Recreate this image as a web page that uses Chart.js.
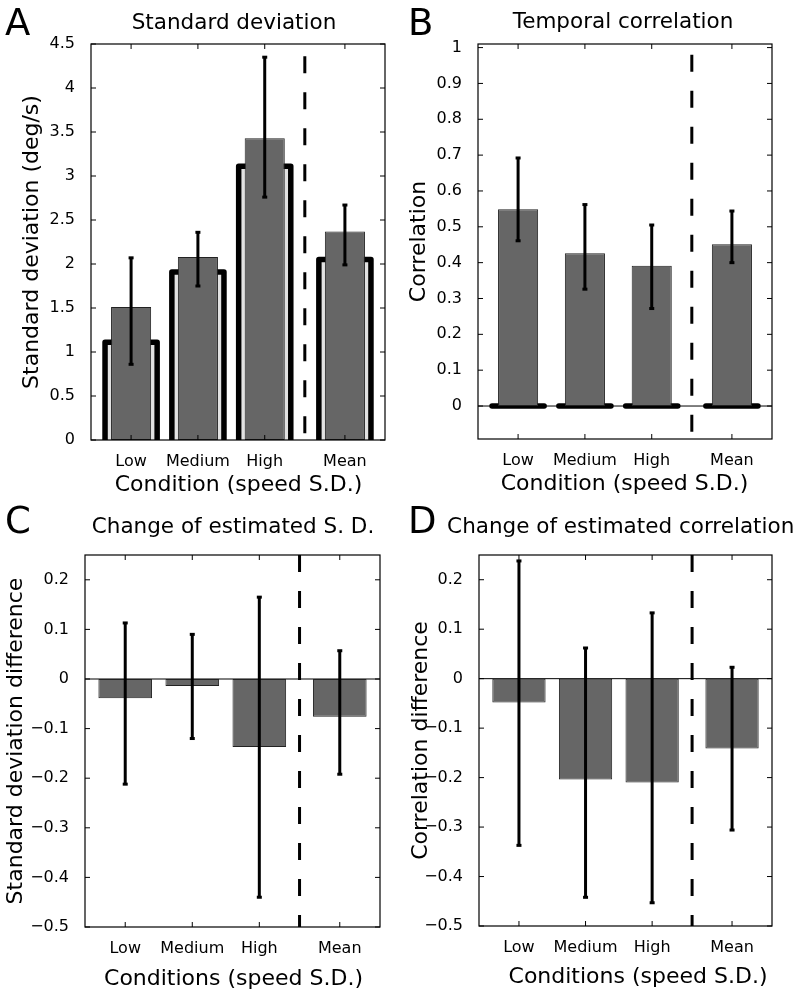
<!DOCTYPE html>
<html lang="en">
<head>
<meta charset="UTF-8" />
<title>Speed variability: S.D. and temporal correlation</title>
<script src="https://cdn.jsdelivr.net/npm/chart.js@4.4.1/dist/chart.umd.min.js"></script>
<style>
  body { margin: 0; background: #fff; }
  #wrap { position: relative; width: 796px; height: 991px; }
  canvas { position: absolute; }
</style>
</head>
<body>
<div id="wrap">
  <canvas id="chartA" width="398" height="495" style="left:0;top:0"></canvas>
  <canvas id="chartB" width="398" height="495" style="left:398px;top:0"></canvas>
  <canvas id="chartC" width="398" height="496" style="left:0;top:495px"></canvas>
  <canvas id="chartD" width="398" height="496" style="left:398px;top:495px"></canvas>
</div>
<script>
const conditions = ['Low', 'Medium', 'High', 'Mean'];
const conditionPos = [1, 2, 3, 4.2];
const dividerPos = 3.6;

// A - standard deviation (deg/s), observers vs model outline
const sdObserved = [1.51, 2.08, 3.43, 2.37];
const sdErrLow = [0.86, 1.75, 2.76, 1.99];
const sdErrHigh = [2.07, 2.36, 4.35, 2.67];
const sdModel = [1.11, 1.91, 3.11, 2.05];
const sdTicks = [0, 0.5, 1, 1.5, 2, 2.5, 3, 3.5, 4, 4.5];

// B - temporal correlation
const corrObserved = [0.549, 0.426, 0.391, 0.451];
const corrErrLow = [0.461, 0.326, 0.272, 0.400];
const corrErrHigh = [0.692, 0.562, 0.505, 0.544];
const corrModel = [0, 0, 0, 0];
const corrTicks = [0, 0.1, 0.2, 0.3, 0.4, 0.5, 0.6, 0.7, 0.8, 0.9, 1];

// C - change of estimated S.D.
const sdDiff = [-0.039, -0.014, -0.137, -0.076];
const sdDiffErrLow = [-0.212, -0.120, -0.440, -0.192];
const sdDiffErrHigh = [0.113, 0.090, 0.165, 0.057];

// D - change of estimated correlation
const corrDiff = [-0.048, -0.204, -0.210, -0.141];
const corrDiffErrLow = [-0.337, -0.442, -0.453, -0.306];
const corrDiffErrHigh = [0.238, 0.062, 0.133, 0.023];
const diffTicks = [-0.5, -0.4, -0.3, -0.2, -0.1, 0, 0.1, 0.2];

const FONT = '"DejaVu Sans", sans-serif';

function fmt(v) {
  const s = String(Math.round(v * 100) / 100);
  return s.replace('-', '\u2212');
}

function makeDecor(p) {
  return {
    id: 'decor',
    beforeDatasetsDraw(chart) {
      const { ctx, chartArea: a, scales: { x, y } } = chart;
      ctx.save();
      if (p.zeroLine) {
        ctx.strokeStyle = '#000';
        ctx.lineWidth = 1;
        ctx.beginPath();
        ctx.moveTo(a.left, y.getPixelForValue(0));
        ctx.lineTo(a.right, y.getPixelForValue(0));
        ctx.stroke();
      }
      if (p.model) {
        ctx.beginPath();
        ctx.rect(a.left, a.top, a.right - a.left, a.bottom - a.top);
        ctx.clip();
        ctx.lineWidth = 5.5;
        ctx.lineJoin = 'round';
        ctx.lineCap = 'round';
        ctx.strokeStyle = '#000';
        ctx.fillStyle = '#e2e2e2';
        p.model.forEach((v, i) => {
          const l = x.getPixelForValue(conditionPos[i] - 0.39);
          const r = x.getPixelForValue(conditionPos[i] + 0.39);
          const top = y.getPixelForValue(v);
          const base = y.getPixelForValue(0);
          ctx.beginPath();
          ctx.moveTo(l, base);
          ctx.lineTo(l, top);
          ctx.lineTo(r, top);
          ctx.lineTo(r, base);
          if (v !== 0) ctx.fill();
          ctx.stroke();
        });
      }
      ctx.restore();
    },
    afterDatasetsDraw(chart) {
      const { ctx, chartArea: a, scales: { x, y } } = chart;
      ctx.save();
      // error bars
      ctx.strokeStyle = '#000';
      ctx.fillStyle = '#000';
      ctx.lineWidth = 3;
      p.errLow.forEach((lo, i) => {
        const px = x.getPixelForValue(conditionPos[i]);
        const y0 = y.getPixelForValue(lo);
        const y1 = y.getPixelForValue(p.errHigh[i]);
        ctx.beginPath();
        ctx.moveTo(px, y0);
        ctx.lineTo(px, y1);
        ctx.stroke();
        ctx.fillRect(px - 2.5, y0 - 1.5, 5, 3);
        ctx.fillRect(px - 2.5, y1 - 1.5, 5, 3);
      });
      // dashed divider
      ctx.setLineDash([17, 19]);
      ctx.lineWidth = 3;
      ctx.beginPath();
      const dx = x.getPixelForValue(dividerPos);
      ctx.moveTo(dx, Math.max(a.top, y.getPixelForValue(p.dividerTop)));
      ctx.lineTo(dx, a.bottom);
      ctx.stroke();
      ctx.setLineDash([]);
      // box and inward ticks
      ctx.lineWidth = 1.2;
      ctx.strokeRect(a.left, a.top, a.right - a.left, a.bottom - a.top);
      ctx.lineWidth = 1;
      ctx.beginPath();
      p.yTicks.forEach(v => {
        const py = y.getPixelForValue(v);
        ctx.moveTo(a.left, py); ctx.lineTo(a.left + 5, py);
        ctx.moveTo(a.right, py); ctx.lineTo(a.right - 5, py);
      });
      conditionPos.forEach(v => {
        const px = x.getPixelForValue(v);
        ctx.moveTo(px, a.bottom); ctx.lineTo(px, a.bottom - 5);
        ctx.moveTo(px, a.top); ctx.lineTo(px, a.top + 5);
      });
      ctx.stroke();
      ctx.restore();
    },
    afterDraw(chart) {
      const { ctx, chartArea: a } = chart;
      ctx.save();
      ctx.fillStyle = '#000';
      ctx.textBaseline = 'alphabetic';
      ctx.font = '37px ' + FONT;
      ctx.textAlign = 'left';
      ctx.fillText(p.letter, p.letterX, p.letterY);
      ctx.textAlign = 'center';
      ctx.font = '21.5px ' + FONT;
      ctx.fillText(p.title, p.titleX, p.titleY);
      ctx.font = '22px ' + FONT;
      ctx.fillText(p.xTitle, p.xTitleX, p.xTitleY);
      ctx.translate(p.yTitleX, (a.top + a.bottom) / 2);
      ctx.rotate(-Math.PI / 2);
      ctx.fillText(p.yTitle, 0, 0);
      ctx.restore();
    }
  };
}

function panel(id, p) {
  return new Chart(document.getElementById(id), {
    type: 'bar',
    data: {
      datasets: [{
        data: conditionPos.map((x, i) => ({ x: x, y: p.values[i] })),
        backgroundColor: '#666666',
        borderColor: '#222',
        borderWidth: 1,
        borderSkipped: false,
        barPercentage: p.barWidth,
        categoryPercentage: 1
      }]
    },
    options: {
      responsive: false,
      animation: false,
      events: [],
      layout: { padding: { left: 0, top: p.area.top, right: p.w - p.area.right, bottom: 0 } },
      plugins: { legend: { display: false }, tooltip: { enabled: false } },
      scales: {
        x: {
          type: 'linear', min: 0.4, max: 4.8, offset: false,
          grid: { display: false }, border: { display: false },
          afterBuildTicks: s => { s.ticks = conditionPos.map(v => ({ value: v })); },
          afterFit: s => { s.height = p.h - p.area.bottom; },
          ticks: {
            autoSkip: false, maxRotation: 0, padding: 4, color: '#000',
            font: { family: FONT, size: 16 },
            callback: (v, i) => conditions[i]
          }
        },
        y: {
          min: p.yMin, max: p.yMax,
          grid: { display: false }, border: { display: false },
          afterBuildTicks: s => { s.ticks = p.yTicks.map(v => ({ value: v })); },
          afterFit: s => { s.width = p.area.left; },
          ticks: {
            padding: 8, color: '#000',
            font: { family: FONT, size: 16 },
            callback: v => fmt(v)
          }
        }
      }
    },
    plugins: [makeDecor(p)]
  });
}

panel('chartA', {
  w: 398, h: 495, area: { left: 91, right: 385, top: 44, bottom: 440 },
  values: sdObserved, errLow: sdErrLow, errHigh: sdErrHigh, model: sdModel,
  yMin: 0, yMax: 4.5, yTicks: sdTicks, barWidth: 0.6, dividerTop: 4.36, zeroLine: false,
  letter: 'A', letterX: 5, letterY: 35,
  title: 'Standard deviation', titleX: 234, titleY: 29,
  xTitle: 'Condition (speed S.D.)', xTitleX: 238.5, xTitleY: 491,
  yTitle: 'Standard deviation (deg/s)', yTitleX: 38
});

panel('chartB', {
  w: 398, h: 495, area: { left: 80, right: 374, top: 44, bottom: 439 },
  values: corrObserved, errLow: corrErrLow, errHigh: corrErrHigh, model: corrModel,
  yMin: -0.092, yMax: 1.01, yTicks: corrTicks, barWidth: 0.6, dividerTop: 0.98, zeroLine: true,
  letter: 'B', letterX: 10, letterY: 35,
  title: 'Temporal correlation', titleX: 225, titleY: 28,
  xTitle: 'Condition (speed S.D.)', xTitleX: 226.5, xTitleY: 490,
  yTitle: 'Correlation', yTitleX: 27
});

panel('chartC', {
  w: 398, h: 496, area: { left: 85, right: 380, top: 60, bottom: 432 },
  values: sdDiff, errLow: sdDiffErrLow, errHigh: sdDiffErrHigh, model: null,
  yMin: -0.5, yMax: 0.25, yTicks: diffTicks, barWidth: 0.8, dividerTop: 0.25, zeroLine: true,
  letter: 'C', letterX: 5, letterY: 38,
  title: 'Change of estimated S. D.', titleX: 233, titleY: 38,
  xTitle: 'Conditions (speed S.D.)', xTitleX: 233.5, xTitleY: 490,
  yTitle: 'Standard deviation difference', yTitleX: 22
});

panel('chartD', {
  w: 398, h: 496, area: { left: 81, right: 374, top: 60, bottom: 431 },
  values: corrDiff, errLow: corrDiffErrLow, errHigh: corrDiffErrHigh, model: null,
  yMin: -0.5, yMax: 0.25, yTicks: diffTicks, barWidth: 0.8, dividerTop: 0.25, zeroLine: true,
  letter: 'D', letterX: 10, letterY: 38,
  title: 'Change of estimated correlation', titleX: 222.7, titleY: 38,
  xTitle: 'Conditions (speed S.D.)', xTitleX: 240, xTitleY: 488,
  yTitle: 'Correlation difference', yTitleX: 29
});
</script>
</body>
</html>
